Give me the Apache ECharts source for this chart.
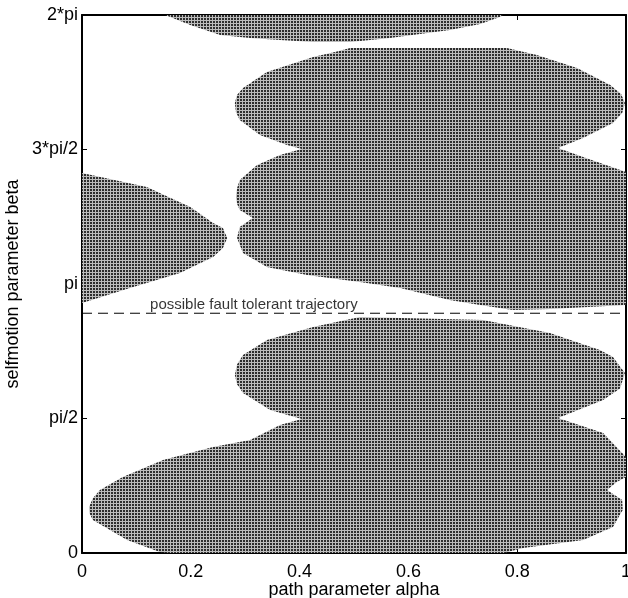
<!DOCTYPE html>
<html>
<head>
<meta charset="utf-8">
<script src="https://cdn.jsdelivr.net/npm/echarts@6/dist/echarts.min.js"></script>
<style>
html, body { margin: 0; padding: 0; background: #fff; }
#main { width: 628px; height: 598px; }
</style>
</head>
<body>
<div id="main"></div>
<script>
var PI = Math.PI;

// tick labels of the selfmotion axis (beta in radians)
var yTickLabels = ['0', 'pi/2', 'pi', '3*pi/2', '2*pi'];

// the dashed line and its text
var faultBeta = 2.80;
var faultText = 'possible fault tolerant trajectory';
var faultTextAt = 0.316;

// outlines of the shaded regions, [alpha, beta]
var regionTop = [
	[0.153, 6.283], [0.199, 6.167], [0.254, 6.050], [0.309, 6.015], [0.364, 5.991],
	[0.425, 5.968], [0.493, 5.968], [0.566, 6.015], [0.676, 6.108], [0.732, 6.178],
	[0.768, 6.260], [0.774, 6.283]
];
var regionUpper = [
	[0.493, 5.898], [0.781, 5.898], [0.836, 5.816], [0.910, 5.664], [0.971, 5.466],
	[0.991, 5.360], [0.998, 5.256], [0.993, 5.140], [0.976, 5.022], [0.921, 4.847],
	[0.875, 4.730], [0.921, 4.625], [1.000, 4.450], [1.000, 2.897], [0.860, 2.850],
	[0.792, 2.838], [0.732, 2.897], [0.676, 2.955], [0.585, 3.095], [0.511, 3.165],
	[0.414, 3.247], [0.340, 3.340], [0.296, 3.504], [0.285, 3.679], [0.290, 3.807],
	[0.314, 3.912], [0.290, 4.006], [0.285, 4.080], [0.283, 4.158], [0.285, 4.260],
	[0.290, 4.356], [0.322, 4.531], [0.364, 4.648], [0.404, 4.718], [0.377, 4.765],
	[0.327, 4.882], [0.290, 5.057], [0.283, 5.150], [0.281, 5.256], [0.285, 5.350],
	[0.296, 5.431], [0.340, 5.618], [0.425, 5.793], [0.465, 5.852]
];
var regionLeft = [
	[0.000, 4.438], [0.119, 4.274], [0.199, 4.041], [0.241, 3.854], [0.259, 3.796],
	[0.267, 3.679], [0.259, 3.562], [0.241, 3.457], [0.180, 3.270], [0.088, 3.095],
	[0.000, 2.920]
];
var regionLower = [
	[0.511, 2.756], [0.737, 2.721], [0.860, 2.569], [0.952, 2.371], [0.976, 2.289],
	[0.998, 2.102], [0.989, 1.920], [0.958, 1.787], [0.875, 1.577], [0.958, 1.401],
	[1.000, 1.121], [1.000, 0.888], [0.983, 0.829], [0.965, 0.736], [0.993, 0.619],
	[0.994, 0.502], [0.976, 0.304], [0.921, 0.152], [0.811, 0.058], [0.775, 0.000],
	[0.162, 0.000], [0.143, 0.012], [0.083, 0.152], [0.020, 0.385], [0.014, 0.460],
	[0.013, 0.537], [0.020, 0.640], [0.033, 0.736], [0.075, 0.888], [0.149, 1.086],
	[0.241, 1.238], [0.309, 1.320], [0.364, 1.495], [0.404, 1.565], [0.346, 1.670],
	[0.296, 1.869], [0.285, 1.970], [0.281, 2.079], [0.285, 2.200], [0.296, 2.312],
	[0.340, 2.488], [0.425, 2.639]
];

// small dotted tile, like the grid of points in the original
var tile = document.createElement('canvas');
tile.width = 3;
tile.height = 3;
var tctx = tile.getContext('2d');
tctx.fillStyle = '#bcbcbc';
tctx.fillRect(0, 0, 3, 3);
tctx.fillStyle = '#2e2e2e';
tctx.fillRect(0, 0, 2, 2);

function regionSeries(pts) {
	return {
		type: 'custom',
		coordinateSystem: 'cartesian2d',
		data: pts,
		silent: true,
		z: 1,
		renderItem: function (params, api) {
			if (params.dataIndex !== 0) return;
			var points = pts.map(function (p) { return api.coord(p); });
			return {
				type: 'polygon',
				shape: { points: points },
				style: { fill: { image: tile, repeat: 'repeat' }, stroke: null }
			};
		}
	};
}

var font = 'Liberation Sans';
var myChart = echarts.init(document.getElementById('main'));
var option = {
	animation: false,
	grid: { left: 82, right: 2, top: 15, bottom: 45, show: false, containLabel: false, outerBoundsMode: 'none' },
	xAxis: [{
		type: 'value', min: 0, max: 1, interval: 0.2, position: 'bottom',
		axisLine: { onZero: false, lineStyle: { color: '#000', width: 2 } },
		axisTick: { inside: true, length: 5, lineStyle: { color: '#000' } },
		axisLabel: { color: '#000', fontSize: 18, fontFamily: font, margin: 10 },
		splitLine: { show: false },
		name: 'path parameter alpha', nameLocation: 'middle', nameGap: 28,
		nameMoveOverlap: false,
		nameTextStyle: { color: '#000', fontSize: 18, fontFamily: font }
	}, {
		type: 'value', min: 0, max: 1, interval: 0.2, position: 'top',
		axisLine: { onZero: false, lineStyle: { color: '#000', width: 2 } },
		axisTick: { inside: true, length: 5, lineStyle: { color: '#000' } },
		axisLabel: { show: false },
		splitLine: { show: false }
	}],
	yAxis: [{
		type: 'value', min: 0, max: 2 * PI, interval: PI / 2, position: 'left',
		axisLine: { onZero: false, lineStyle: { color: '#000', width: 2 } },
		axisTick: { inside: true, length: 5, lineStyle: { color: '#000' } },
		axisLabel: {
			color: '#000', fontSize: 18, fontFamily: font, margin: 4,
			formatter: function (v) { return yTickLabels[Math.round(v / (PI / 2))]; }
		},
		splitLine: { show: false },
		name: 'selfmotion parameter beta', nameLocation: 'middle', nameGap: 60,
		nameMoveOverlap: false,
		nameTextStyle: { color: '#000', fontSize: 18, fontFamily: font }
	}, {
		type: 'value', min: 0, max: 2 * PI, interval: PI / 2, position: 'right',
		axisLine: { onZero: false, lineStyle: { color: '#000', width: 2 } },
		axisTick: { inside: true, length: 5, lineStyle: { color: '#000' } },
		axisLabel: { show: false },
		splitLine: { show: false }
	}],
	series: [
		regionSeries(regionTop),
		regionSeries(regionUpper),
		regionSeries(regionLeft),
		regionSeries(regionLower),
		{
			type: 'line',
			data: [[0, faultBeta], [1, faultBeta]],
			symbol: 'none',
			lineStyle: { color: '#000', width: 1, type: [10, 6] },
			silent: true,
			z: 3
		},
		{
			type: 'scatter',
			data: [[faultTextAt, faultBeta]],
			symbolSize: 0,
			silent: true,
			z: 4,
			label: {
				show: true, position: 'top', distance: 1,
				formatter: faultText,
				color: '#000', fontSize: 15, fontFamily: font
			}
		}
	]
};
myChart.setOption(option);
</script>
</body>
</html>
